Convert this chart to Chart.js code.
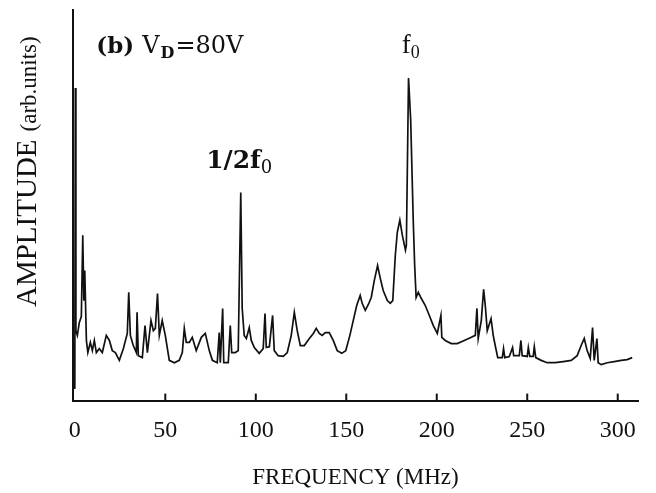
<!DOCTYPE html>
<html>
<head>
<meta charset="utf-8">
<script src="https://cdn.jsdelivr.net/npm/chart.js@4/dist/chart.umd.min.js"></script>
<style>
  body { margin: 0; background: #fff; }
  #wrap { width: 656px; height: 493px; }
</style>
</head>
<body>
<div id="wrap"><canvas id="spectrum" width="656" height="493"></canvas></div>
<script>
// spectrum (MHz, arb. units)
var freq = [0, 0.3, 0.6, 1.4, 2.5, 3.6, 4.4, 5.0, 5.5, 6.4, 7.2, 8.6, 9.7, 10.8, 11.9, 13.5, 15.2, 17.4, 19.1, 20.7,
  22.4, 24.6, 26.8, 29.0, 29.8, 30.7, 32.3, 34.0, 34.4, 35.1, 37.3, 38.8, 40.1, 42.1, 43.4, 44.5, 45.7, 46.7, 48.3, 50.0,
  52.2, 55.0, 57.7, 59.4, 60.5, 61.6, 63.3, 64.9, 67.1, 69.9, 72.1, 74.3, 76.0, 78.7, 79.8, 80.4, 81.7, 82.3, 84.8, 85.9,
  86.7, 88.7, 90.3, 91.7, 92.5, 93.6, 94.8, 96.4, 97.5, 99.2, 101.9, 104.1, 105.1, 105.8, 107.5, 109.3, 110.2, 112.4, 115.2, 117.4,
  119.6, 121.3, 122.9, 124.6, 126.8, 129.6, 131.8, 133.4, 135.1, 136.7, 138.4, 140.6, 142.8, 145.0, 147.5, 149.7, 152.0, 154.1, 155.8, 157.7,
  158.8, 160.5, 162.2, 163.8, 165.5, 167.3, 168.8, 170.4, 172.7, 174.3, 175.7, 177.1, 178.2, 179.6, 181.0, 182.7, 183.2, 184.4, 185.6, 187.0,
  187.8, 188.6, 189.8, 191.4, 193.6, 195.9, 198.1, 200.3, 202.3, 202.8, 204.7, 208.0, 211.3, 215.2, 219.1, 221.3, 222.2, 222.9, 224.6, 225.9,
  226.8, 227.9, 230.0, 231.2, 232.3, 233.7, 236.2, 236.9, 237.6, 240.1, 241.9, 242.5, 245.6, 246.5, 247.2, 250.0, 250.6, 251.4, 253.3, 253.9,
  254.7, 257.7, 261.0, 265.5, 269.9, 274.3, 277.6, 279.8, 281.5, 283.1, 284.8, 286.1, 287.0, 288.5, 289.2, 290.9, 294.2, 298.1, 301.9, 305.2,
  308.0];
var amp = [3, 80, 17.9, 16.7, 20, 21.5, 42.3, 25.6, 33.3, 15.4, 12.3, 14.9, 12.8, 15.4, 12.3, 13.3, 12.3, 16.7, 15.4, 12.8,
  12.3, 10.3, 13.3, 17.2, 27.7, 16.7, 14.1, 12.3, 22.6, 11.5, 11.0, 19.2, 12.3, 20.5, 17.9, 18.5, 27.4, 16.7, 20.5, 16.7,
  10.3, 9.7, 10.3, 12.3, 18.5, 14.9, 14.9, 16.2, 12.8, 16.2, 17.2, 12.8, 10.3, 9.7, 17.4, 9.7, 23.6, 9.7, 9.7, 19.2,
  12.3, 12.3, 12.8, 53.3, 23.6, 16.7, 15.9, 18.7, 15.4, 13.6, 12.1, 13.3, 22.3, 13.6, 13.8, 21.8, 12.8, 11.5, 11.3, 12.3,
  16.7, 22.6, 17.9, 14.1, 14.1, 15.9, 17.2, 18.5, 17.2, 16.7, 17.4, 17.4, 15.4, 12.8, 12.1, 12.8, 16.7, 21.0, 24.4, 26.9,
  24.9, 23.1, 24.6, 26.4, 30.8, 34.6, 31.3, 28.2, 25.6, 24.9, 25.6, 37.2, 43.1, 46.2, 42.3, 38.5, 39.7, 82.6, 71.8, 46.2,
  34.6, 26.4, 27.7, 26.2, 24.4, 21.8, 19.2, 17.2, 21.8, 16.2, 15.4, 14.6, 14.6, 15.4, 16.2, 16.7, 23.6, 15.9, 20.5, 28.5,
  24.4, 17.9, 21.0, 16.7, 14.1, 11.0, 11.0, 13.3, 11.0, 11.3, 13.6, 11.5, 11.5, 15.4, 11.5, 11.3, 13.6, 11.3, 11.3, 13.8,
  11.0, 10.3, 9.7, 9.7, 10.0, 10.3, 11.5, 14.1, 15.9, 12.8, 10.8, 18.7, 10.3, 15.9, 9.7, 9.2, 9.7, 10.0, 10.3, 10.5,
  11.0];
var xTicks = [0, 50, 100, 150, 200, 250, 300];

var ink = '#111';

// labels on the plot, placed in data units
var notes = [
  { parts: [['(b)', 'bold 23px "DejaVu Serif"', 0], ['V', '24px "DejaVu Serif"', 8], ['D', 'bold 16px "DejaVu Serif"', 1, 5], ['=80V', '24px "DejaVu Serif"', 1]], x: 11.9, y: 89 },
  { parts: [['f', '27px "Liberation Serif"', 0], ['0', '18px "Liberation Serif"', 0, 5]], x: 180.6, y: 89 },
  { parts: [['1/2f', 'bold 25px "DejaVu Serif"', 0], ['0', '18px "DejaVu Serif"', 0, 5]], x: 72.6, y: 59.5 }
];

var decor = {
  id: 'decor',
  afterDraw: function (chart) {
    var ctx = chart.ctx, xs = chart.scales.x, ys = chart.scales.y;
    var bottom = chart.chartArea.bottom;
    ctx.save();
    ctx.strokeStyle = ink;
    ctx.lineWidth = 2;
    xTicks.forEach(function (v) {
      if (v === 0) return;
      var px = xs.getPixelForValue(v);
      ctx.beginPath();
      ctx.moveTo(px, bottom);
      ctx.lineTo(px, bottom - 7);
      ctx.stroke();
    });

    ctx.fillStyle = ink;
    ctx.textBaseline = 'alphabetic';
    ctx.textAlign = 'left';
    notes.forEach(function (n) {
      var px = xs.getPixelForValue(n.x), py = ys.getPixelForValue(n.y);
      n.parts.forEach(function (p) {
        ctx.font = p[1];
        px += p[2];
        ctx.fillText(p[0], px, py + (p[3] || 0));
        px += ctx.measureText(p[0]).width;
      });
    });

    // y axis title
    ctx.translate(36, 307);
    ctx.rotate(-Math.PI / 2);
    ctx.font = '29px "Liberation Serif"';
    ctx.fillText('AMPLITUDE', 0, 0);
    var w = ctx.measureText('AMPLITUDE').width;
    ctx.font = '23px "Liberation Serif"';
    ctx.fillText('(arb.units)', w + 8, 0);
    ctx.restore();
  }
};

new Chart(document.getElementById('spectrum').getContext('2d'), {
  type: 'line',
  data: {
    datasets: [{
      data: freq.map(function (f, i) { return { x: f, y: amp[i] }; }),
      borderColor: ink,
      borderWidth: 1.7,
      pointRadius: 0,
      tension: 0
    }]
  },
  options: {
    responsive: false,
    animation: false,
    layout: { padding: { left: 73, top: 10, right: 18, bottom: 0 } },
    plugins: { legend: { display: false }, tooltip: { enabled: false } },
    scales: {
      x: {
        type: 'linear',
        min: -1.0,
        max: 311.2,
        afterBuildTicks: function (s) { s.ticks = xTicks.map(function (v) { return { value: v }; }); },
        grid: { display: false, drawTicks: false },
        border: { display: true, color: ink, width: 2 },
        ticks: { color: ink, font: { family: 'Liberation Serif', size: 24 }, padding: 16, maxRotation: 0, autoSkip: false },
        title: { display: true, text: 'FREQUENCY (MHz)', color: ink, font: { family: 'Liberation Serif', size: 23 }, padding: { top: 3, bottom: 1 } }
      },
      y: {
        min: 0,
        max: 100,
        ticks: { display: false },
        grid: { display: false, drawTicks: false },
        border: { display: true, color: ink, width: 2 }
      }
    }
  },
  plugins: [decor]
});
</script>
</body>
</html>
